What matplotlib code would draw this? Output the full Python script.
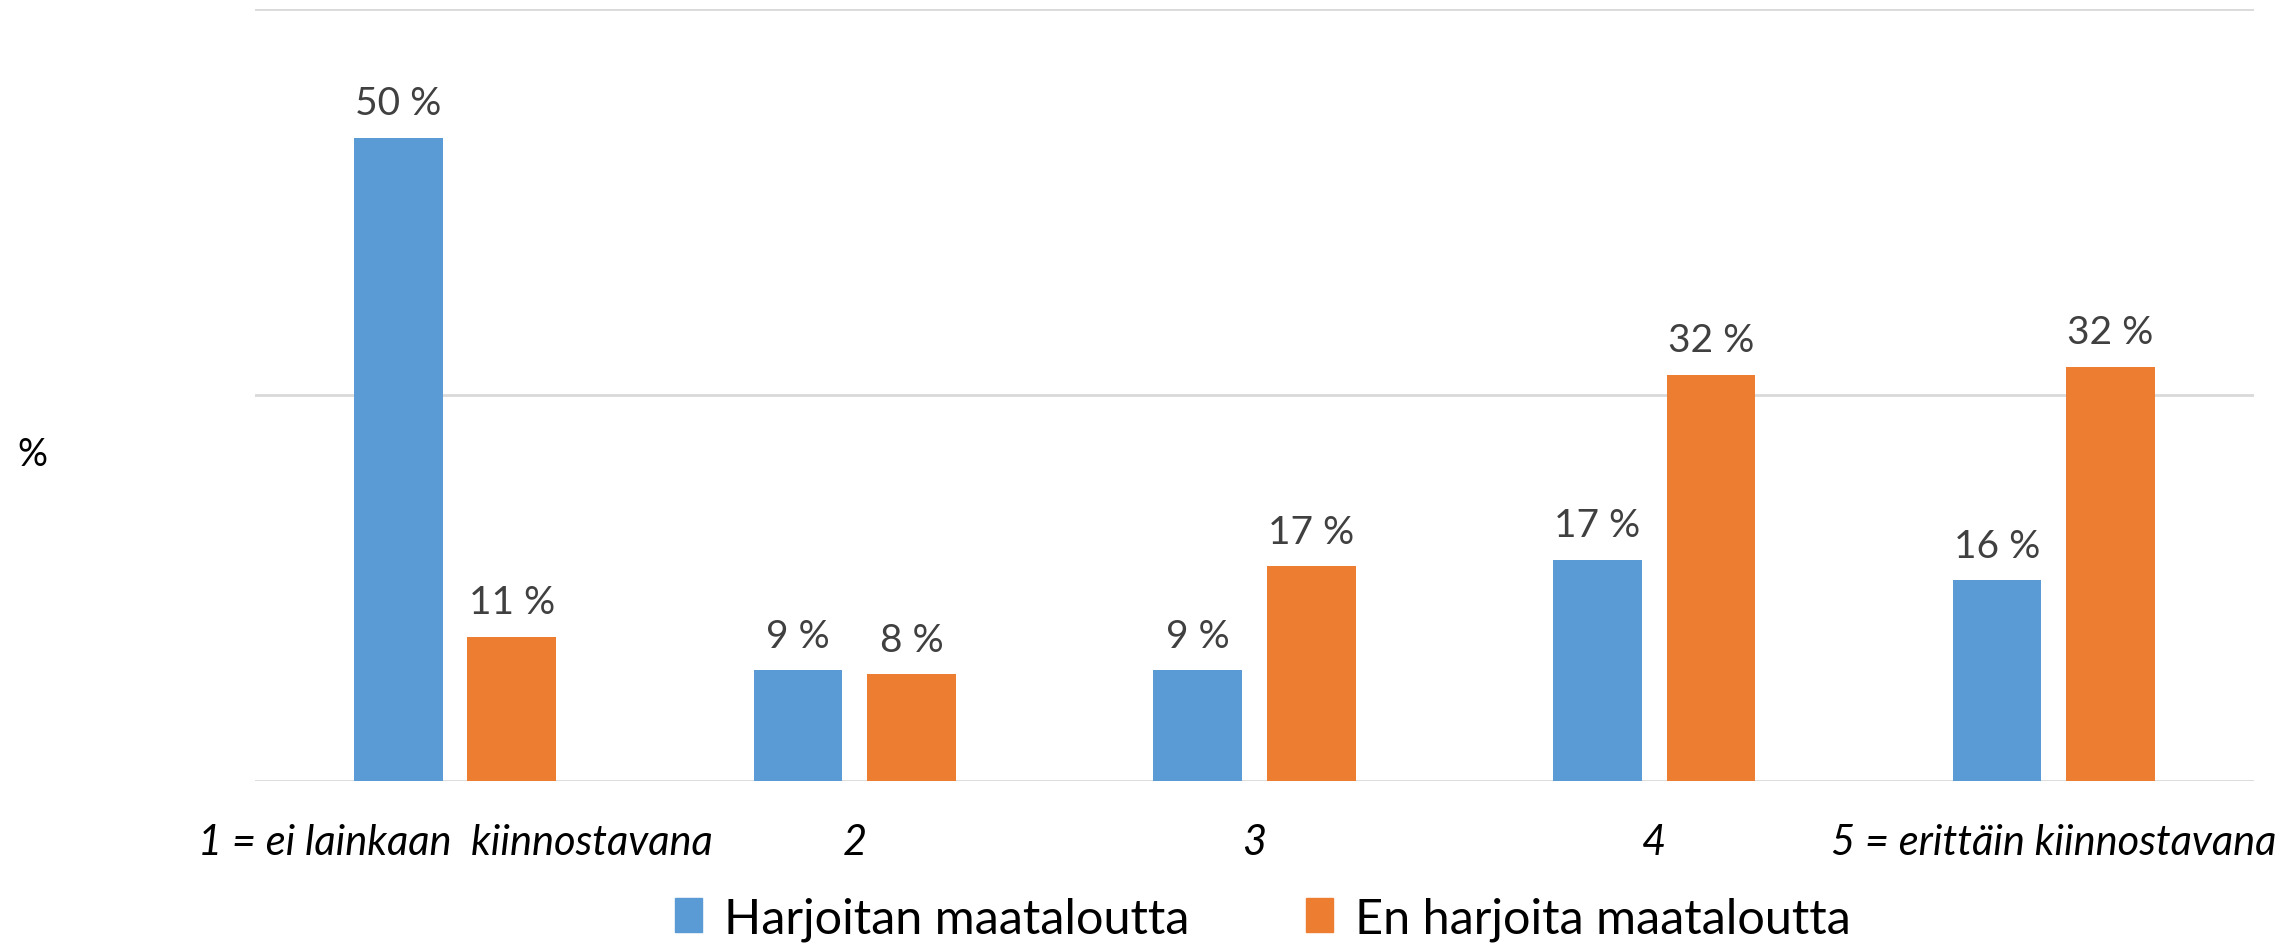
import matplotlib.pyplot as plt
from matplotlib.patches import Patch
import numpy as np

# answers on a 1..5 scale, share of respondents (%)
categories = ["1 = ei lainkaan  kiinnostavana", "2", "3", "4", "5 = erittäin kiinnostavana"]
harjoitan = [50.0, 8.6, 8.6, 17.2, 15.6]
en_harjoita = [11.2, 8.3, 16.7, 31.6, 32.2]
series_names = ["Harjoitan maataloutta", "En harjoita maataloutta"]

blue = "#5B9BD5"
orange = "#ED7D31"
plt.rcParams['font.family'] = ['Lato', 'DejaVu Sans']

fig = plt.figure(figsize=(22.88, 9.45), dpi=100)
ax = fig.add_axes([0.1115, 0.1725, 0.8735, 0.8165])

x = np.arange(len(categories))
w = 0.222
off = 0.142
b1 = ax.bar(x - off, harjoitan, w, color=blue)
b2 = ax.bar(x + off, en_harjoita, w, color=orange)

# value labels above each bar
for bars, vals in ((b1, harjoitan), (b2, en_harjoita)):
    for rect, v in zip(bars, vals):
        ax.annotate("{} %".format(int(round(v))),
                    (rect.get_x() + rect.get_width() / 2, rect.get_height()),
                    xytext=(0, 12), textcoords="offset points",
                    ha="center", va="bottom", fontsize=28, color="#404040")

ax.set_xlim(-0.5, len(categories) - 0.5)
ax.set_ylim(0, 60)
ax.set_yticks([0, 30, 60])
ax.set_yticklabels([])
ax.yaxis.grid(True, color="#d9d9d9", linewidth=2)
ax.set_axisbelow(True)
ax.tick_params(axis="both", length=0)
for s in ax.spines.values():
    s.set_visible(False)

ax.set_xticks(x)
ax.set_xticklabels(categories, fontsize=30, style="italic", color="black")
ax.tick_params(axis="x", pad=30)

fig.text(0.014, 0.518, "%", fontsize=27, ha="center", va="center")

handles = [Patch(color=blue), Patch(color=orange)]
fig.legend(handles, series_names, loc="center", ncol=2,
           bbox_to_anchor=(0.552, 0.027), frameon=False, fontsize=35,
           handlelength=0.55, handleheight=0.7, handletextpad=0.45,
           columnspacing=2.4)

fig.savefig("out.png", dpi=100)
